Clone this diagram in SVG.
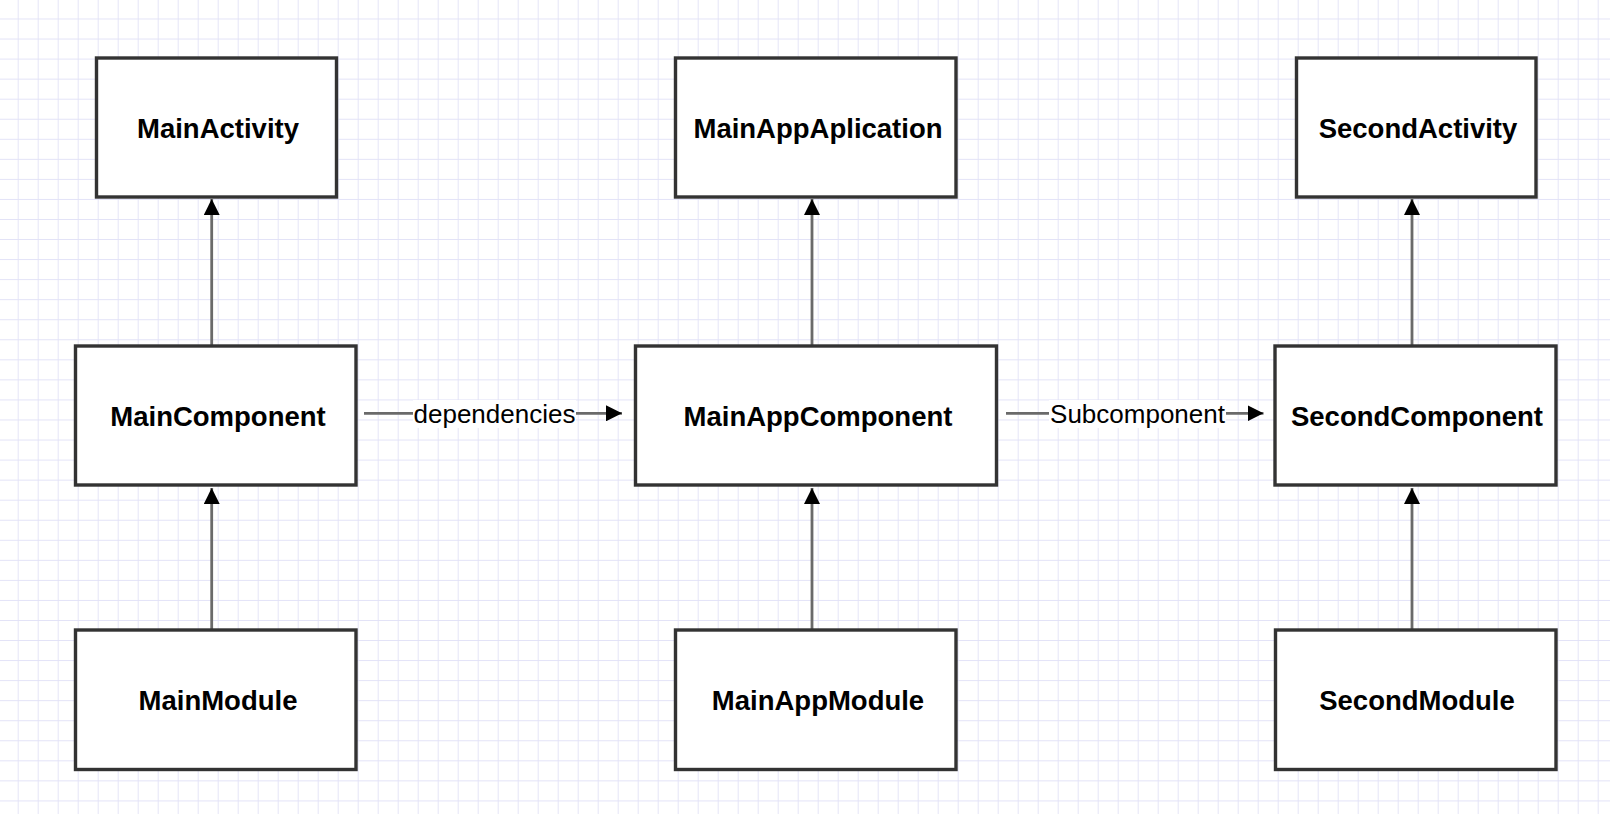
<svg xmlns="http://www.w3.org/2000/svg" width="1610" height="814" viewBox="0 0 1610 814">
  <defs>
    <pattern id="grid" patternUnits="userSpaceOnUse" x="17.7" y="18.5" width="20" height="20.05">
      <path d="M0,0 H20 M0,0 V20.05" fill="none" stroke="#e2e2f7" stroke-width="1.8"/>
    </pattern>
    <marker id="arrow" markerUnits="userSpaceOnUse" markerWidth="16" markerHeight="16" viewBox="0 0 15 15" refX="15" refY="7.5" orient="auto">
      <path d="M0,0 L15,7.5 L0,15 Z" fill="#000"/>
    </marker>
    <style>
      .box { fill: #ffffff; stroke: #333333; stroke-width: 3.4; }
      .lbl { font-family: "Liberation Sans", Arial, sans-serif; font-weight: bold; font-size: 27.5px; fill: #000; text-anchor: middle; }
      .edge { fill: none; stroke: #6a6a6a; stroke-width: 2.8; marker-end: url(#arrow); }
      .elbl { font-family: "Liberation Sans", Arial, sans-serif; font-size: 26px; fill: #000; text-anchor: middle; }
      .ebg { fill: #ffffff; }
    </style>
  </defs>

  <rect x="0" y="0" width="1610" height="814" fill="#ffffff"/>
  <rect x="0" y="0" width="1610" height="814" fill="url(#grid)"/>

  <g id="connectors">
    <line class="edge" x1="211.7" y1="346" x2="211.7" y2="199"/>
    <line class="edge" x1="211.7" y1="630" x2="211.7" y2="488"/>
    <line class="edge" x1="812" y1="346" x2="812" y2="199"/>
    <line class="edge" x1="812" y1="630" x2="812" y2="488"/>
    <line class="edge" x1="1412" y1="346" x2="1412" y2="199"/>
    <line class="edge" x1="1412" y1="630" x2="1412" y2="488"/>
    <g id="edge-dependencies">
      <line class="edge" x1="364" y1="413.3" x2="622" y2="413.3"/>
      <rect class="ebg" x="413" y="400" width="163" height="28"/>
      <text class="elbl" x="494.5" y="423">dependencies</text>
    </g>
    <g id="edge-subcomponent">
      <line class="edge" x1="1006" y1="413.3" x2="1263.5" y2="413.3"/>
      <rect class="ebg" x="1049" y="400" width="177" height="28"/>
      <text class="elbl" x="1137.5" y="423">Subcomponent</text>
    </g>
  </g>

  <g id="MainActivity">
    <rect class="box" x="96.5" y="58" width="240" height="139"/>
    <text class="lbl" x="218" y="137.5">MainActivity</text>
  </g>
  <g id="MainComponent">
    <rect class="box" x="75.5" y="346" width="280.5" height="139"/>
    <text class="lbl" x="218" y="425.5">MainComponent</text>
  </g>
  <g id="MainModule">
    <rect class="box" x="75.5" y="630" width="280.5" height="139.5"/>
    <text class="lbl" x="218" y="710">MainModule</text>
  </g>

  <g id="MainAppAplication">
    <rect class="box" x="675.5" y="58" width="280.5" height="139"/>
    <text class="lbl" x="818" y="137.5">MainAppAplication</text>
  </g>
  <g id="MainAppComponent">
    <rect class="box" x="635.5" y="346" width="361" height="139"/>
    <text class="lbl" x="818" y="425.5">MainAppComponent</text>
  </g>
  <g id="MainAppModule">
    <rect class="box" x="675.5" y="630" width="280.5" height="139.5"/>
    <text class="lbl" x="818" y="710">MainAppModule</text>
  </g>

  <g id="SecondActivity">
    <rect class="box" x="1296.5" y="58" width="239.5" height="139"/>
    <text class="lbl" x="1418" y="137.5">SecondActivity</text>
  </g>
  <g id="SecondComponent">
    <rect class="box" x="1275" y="346" width="281" height="139"/>
    <text class="lbl" x="1417" y="425.5">SecondComponent</text>
  </g>
  <g id="SecondModule">
    <rect class="box" x="1275.5" y="630" width="280.5" height="139.5"/>
    <text class="lbl" x="1417" y="710">SecondModule</text>
  </g>
</svg>
